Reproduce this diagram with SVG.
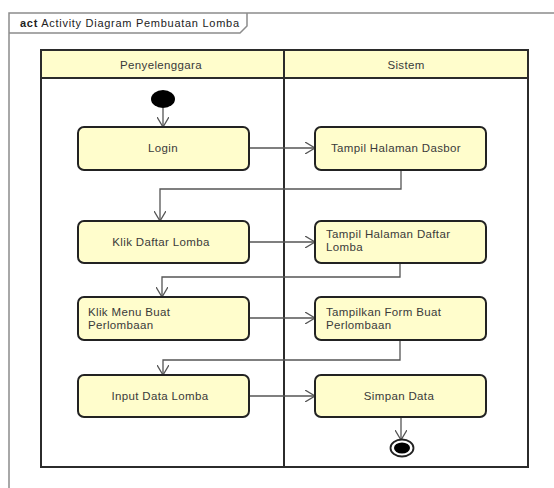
<svg xmlns="http://www.w3.org/2000/svg" width="554" height="488" viewBox="0 0 554 488">
  <defs>
    <style>
      .frame { fill: none; stroke: #8c8c8c; stroke-width: 1.5; }
      .lane { fill: #ffffff; stroke: #2b2b2b; stroke-width: 2; }
      .head { fill: #fffdcc; stroke: #2b2b2b; stroke-width: 2; }
      .act { fill: #fffdcc; stroke: #222222; stroke-width: 2; }
      .flow { fill: none; stroke: #555555; stroke-width: 1.3; marker-end: url(#open); }
      .lbl { font-family: "Liberation Sans", Arial, sans-serif; font-size: 11.5px; letter-spacing: 0.35px; fill: #3a3a3a; }
      .mid { text-anchor: middle; }
    </style>
    <marker id="open" viewBox="0 0 10 12" refX="10" refY="6" markerWidth="10" markerHeight="12" markerUnits="userSpaceOnUse" orient="auto">
      <path d="M0,0 L10,6 L0,12" fill="none" stroke="#555555" stroke-width="1.3"/>
    </marker>
  </defs>
  <rect width="554" height="488" fill="#ffffff"/>

  <!-- diagram frame with name tab -->
  <g id="frame">
    <path class="frame" d="M9,488 V13 H554"/>
    <path class="frame" d="M9,33 H240 L247,26 V13"/>
    <text x="20" y="27" font-family="'Liberation Sans', Arial, sans-serif" font-size="11px" fill="#222222" textLength="219" lengthAdjust="spacing"><tspan font-weight="bold">act</tspan> Activity Diagram Pembuatan Lomba</text>
  </g>

  <!-- swimlanes -->
  <g id="lanes">
    <rect class="lane" x="41" y="50" width="487" height="417"/>
    <rect class="head" x="41" y="50" width="487" height="28"/>
    <line x1="284" y1="50" x2="284" y2="467" stroke="#2b2b2b" stroke-width="2"/>
    <text class="lbl mid" x="161" y="69">Penyelenggara</text>
    <text class="lbl mid" x="406" y="69">Sistem</text>
  </g>

  <!-- connectors -->
  <g id="connectors">
    <path class="flow" d="M163,108 V127"/>
    <path class="flow" d="M249,148 H315"/>
    <path class="flow" d="M401,170 V189 H160 V221"/>
    <path class="flow" d="M249,242 H315"/>
    <path class="flow" d="M400,263 V277 H162 V297"/>
    <path class="flow" d="M249,318 H315"/>
    <path class="flow" d="M400,340 V360 H163 V375"/>
    <path class="flow" d="M249,396 H315"/>
    <path class="flow" d="M401,417 V440"/>
  </g>

  <!-- start -->
  <g id="start">
    <ellipse cx="163" cy="99" rx="12" ry="9" fill="#000000"/>
  </g>

  <g id="login">
    <rect class="act" x="78" y="127" width="171" height="43" rx="6"/>
    <text class="lbl mid" x="163" y="152">Login</text>
  </g>
  <g id="tampil-dasbor">
    <rect class="act" x="315" y="127" width="171" height="43" rx="6"/>
    <text class="lbl mid" x="396" y="152">Tampil Halaman Dasbor</text>
  </g>

  <g id="klik-daftar">
    <rect class="act" x="78" y="221" width="171" height="42" rx="6"/>
    <text class="lbl mid" x="161" y="246">Klik Daftar Lomba</text>
  </g>
  <g id="tampil-daftar">
    <rect class="act" x="315" y="221" width="171" height="42" rx="6"/>
    <text class="lbl" x="326" y="238">Tampil Halaman Daftar</text>
    <text class="lbl" x="326" y="251">Lomba</text>
  </g>

  <g id="klik-menu">
    <rect class="act" x="78" y="297" width="171" height="43" rx="6"/>
    <text class="lbl" x="88" y="316">Klik Menu Buat</text>
    <text class="lbl" x="88" y="329">Perlombaan</text>
  </g>
  <g id="tampilkan-form">
    <rect class="act" x="315" y="297" width="171" height="43" rx="6"/>
    <text class="lbl" x="326" y="316">Tampilkan Form Buat</text>
    <text class="lbl" x="326" y="329">Perlombaan</text>
  </g>

  <g id="input-data">
    <rect class="act" x="78" y="375" width="171" height="42" rx="6"/>
    <text class="lbl mid" x="160" y="400">Input Data Lomba</text>
  </g>
  <g id="simpan-data">
    <rect class="act" x="315" y="375" width="171" height="42" rx="6"/>
    <text class="lbl mid" x="399" y="400">Simpan Data</text>
  </g>

  <!-- end -->
  <g id="end">
    <ellipse cx="402" cy="448" rx="11.5" ry="8.5" fill="#ffffff" stroke="#222222" stroke-width="1.8"/>
    <ellipse cx="402" cy="448" rx="8" ry="5.5" fill="#000000"/>
  </g>
</svg>
